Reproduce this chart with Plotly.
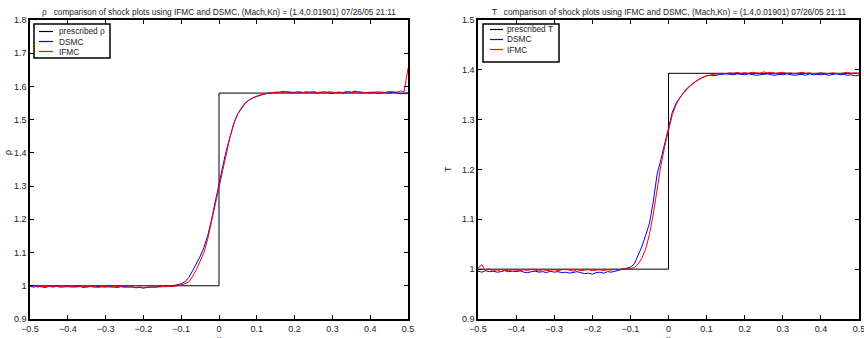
import plotly.graph_objects as go

x = [-0.50, -0.49, -0.48, -0.47, -0.46, -0.45, -0.44, -0.43, -0.42, -0.41,
     -0.40, -0.39, -0.38, -0.37, -0.36, -0.35, -0.34, -0.33, -0.32, -0.31,
     -0.30, -0.29, -0.28, -0.27, -0.26, -0.25, -0.24, -0.23, -0.22, -0.21,
     -0.20, -0.19, -0.18, -0.17, -0.16, -0.15, -0.14, -0.13, -0.12, -0.11,
     -0.10, -0.09, -0.08, -0.07, -0.06, -0.05, -0.04, -0.03, -0.02, -0.01,
     0.00, 0.01, 0.02, 0.03, 0.04, 0.05, 0.06, 0.07, 0.08, 0.09,
     0.10, 0.11, 0.12, 0.13, 0.14, 0.15, 0.16, 0.17, 0.18, 0.19,
     0.20, 0.21, 0.22, 0.23, 0.24, 0.25, 0.26, 0.27, 0.28, 0.29,
     0.30, 0.31, 0.32, 0.33, 0.34, 0.35, 0.36, 0.37, 0.38, 0.39,
     0.40, 0.41, 0.42, 0.43, 0.44, 0.45, 0.46, 0.47, 0.48, 0.49,
     0.50]

rho_dsmc = [0.998, 0.996, 0.999, 0.997, 0.995, 0.998, 0.997, 0.999, 0.996, 0.997,
            0.998, 0.996, 0.997, 0.999, 0.995, 0.997, 0.998, 0.996, 0.998, 0.997,
            0.996, 0.998, 0.997, 0.995, 0.997, 0.998, 0.996, 0.997, 0.994, 0.995,
            0.993, 0.996, 0.997, 0.995, 0.998, 0.997, 0.999, 0.998, 1.000, 1.002,
            1.006, 1.012, 1.025, 1.045, 1.066, 1.088, 1.115, 1.150, 1.198, 1.255,
            1.305, 1.360, 1.410, 1.452, 1.492, 1.518, 1.536, 1.550, 1.559, 1.566,
            1.570, 1.574, 1.577, 1.579, 1.581, 1.583, 1.582, 1.585, 1.583, 1.581,
            1.582, 1.583, 1.581, 1.584, 1.582, 1.583, 1.580, 1.582, 1.584, 1.581,
            1.579, 1.582, 1.583, 1.580, 1.584, 1.582, 1.586, 1.583, 1.581, 1.582,
            1.580, 1.583, 1.579, 1.581, 1.582, 1.580, 1.583, 1.581, 1.578, 1.579,
            1.580]

rho_ifmc = [0.999, 1.001, 0.996, 0.998, 0.997, 0.999, 0.996, 0.998, 0.997, 0.996,
            0.997, 0.998, 0.996, 0.997, 0.999, 0.996, 0.998, 0.997, 0.995, 0.997,
            0.998, 0.996, 0.997, 0.996, 0.998, 0.995, 0.997, 0.996, 0.995, 0.997,
            0.994, 0.996, 0.995, 0.997, 0.996, 0.998, 0.997, 0.999, 0.998, 1.000,
            1.002, 1.006, 1.012, 1.028, 1.048, 1.072, 1.100, 1.140, 1.192, 1.250,
            1.303, 1.358, 1.408, 1.452, 1.490, 1.518, 1.537, 1.551, 1.560, 1.566,
            1.571, 1.575, 1.578, 1.580, 1.582, 1.581, 1.583, 1.582, 1.584, 1.583,
            1.582, 1.584, 1.583, 1.581, 1.583, 1.584, 1.582, 1.583, 1.581, 1.584,
            1.583, 1.582, 1.580, 1.583, 1.585, 1.583, 1.582, 1.584, 1.583, 1.581,
            1.583, 1.582, 1.584, 1.583, 1.582, 1.585, 1.584, 1.583, 1.586, 1.585,
            1.655]

T_dsmc = [0.996, 0.994, 0.997, 0.995, 0.996, 0.994, 0.995, 0.997, 0.995, 0.996,
          0.995, 0.997, 0.994, 0.993, 0.995, 0.996, 0.994, 0.995, 0.993, 0.996,
          0.994, 0.995, 0.993, 0.994, 0.992, 0.994, 0.995, 0.993, 0.991, 0.992,
          0.990, 0.993, 0.994, 0.992, 0.995, 0.994, 0.996, 0.997, 0.999, 1.001,
          1.004, 1.010, 1.026, 1.045, 1.068, 1.092, 1.135, 1.190, 1.220, 1.252,
          1.281, 1.315, 1.333, 1.345, 1.355, 1.364, 1.371, 1.376, 1.381, 1.385,
          1.388, 1.389, 1.388, 1.390, 1.391, 1.392, 1.391, 1.390, 1.392, 1.391,
          1.390, 1.392, 1.391, 1.389, 1.390, 1.391, 1.392, 1.390, 1.389, 1.391,
          1.390, 1.392, 1.391, 1.389, 1.390, 1.391, 1.389, 1.392, 1.390, 1.391,
          1.390, 1.391, 1.389, 1.391, 1.392, 1.390, 1.391, 1.389, 1.390, 1.388,
          1.389]

T_ifmc = [1.002, 1.009, 0.997, 1.001, 0.996, 0.999, 0.995, 0.998, 0.997, 0.999,
          0.998, 0.996, 0.999, 0.997, 1.000, 0.998, 0.996, 0.999, 0.997, 0.998,
          0.999, 0.997, 0.998, 1.000, 0.998, 0.996, 0.999, 0.997, 0.998, 0.999,
          0.997, 0.998, 0.999, 0.997, 0.999, 0.998, 1.000, 0.999, 1.001, 1.000,
          1.001, 1.003, 1.010, 1.022, 1.040, 1.070, 1.110, 1.160, 1.208, 1.246,
          1.276, 1.310, 1.330, 1.344, 1.354, 1.363, 1.370, 1.376, 1.381, 1.385,
          1.388, 1.390, 1.391, 1.392, 1.393, 1.392, 1.394, 1.393, 1.395, 1.393,
          1.394, 1.393, 1.395, 1.394, 1.393, 1.396, 1.394, 1.395, 1.393, 1.394,
          1.395, 1.393, 1.394, 1.392, 1.394, 1.395, 1.393, 1.394, 1.392, 1.393,
          1.394, 1.393, 1.392, 1.394, 1.393, 1.392, 1.394, 1.395, 1.393, 1.394,
          1.393]

step_x = [-0.5, 0.0, 0.0, 0.5]
rho_step = [1.0, 1.0, 1.58, 1.58]
T_step = [1.0, 1.0, 1.393, 1.393]

xticks = [-0.5, -0.4, -0.3, -0.2, -0.1, 0, 0.1, 0.2, 0.3, 0.4, 0.5]

legend_rho = ["prescribed ρ", "DSMC", "IFMC"]
legend_T = ["prescribed T", "DSMC", "IFMC"]
series_colors = ["black", "#0000ff", "#ff0000"]

title_rho = "ρ   comparison of shock plots using IFMC and DSMC, (Mach,Kn) = (1.4,0.01901) 07/26/05 21:11"
title_T = "T   comparison of shock plots using IFMC and DSMC, (Mach,Kn) = (1.4,0.01901) 07/26/05 21:11"

FONT = "Liberation Sans, Arial, sans-serif"
TXT = "#222"
W, H = 864, 338


def px(v):
    return v / W


def py(v):
    return 1 - v / H


fig = go.Figure()

for xs, ys, nm, c in [(step_x, rho_step, legend_rho[0], series_colors[0]),
                      (x, rho_dsmc, legend_rho[1], series_colors[1]),
                      (x, rho_ifmc, legend_rho[2], series_colors[2])]:
    fig.add_trace(go.Scatter(x=xs, y=ys, mode="lines", name=nm, showlegend=False,
                             line=dict(color=c, width=1), xaxis="x", yaxis="y"))
for xs, ys, nm, c in [(step_x, T_step, legend_T[0], series_colors[0]),
                      (x, T_dsmc, legend_T[1], series_colors[1]),
                      (x, T_ifmc, legend_T[2], series_colors[2])]:
    fig.add_trace(go.Scatter(x=xs, y=ys, mode="lines", name=nm, showlegend=False,
                             line=dict(color=c, width=1), xaxis="x2", yaxis="y2"))

xd1 = [px(30), px(408)]
xd2 = [px(478), px(859)]
yd = [py(319), py(20)]

axis_common = dict(showline=True, linecolor="black", linewidth=1.5, mirror="allticks",
                   ticks="inside", ticklen=4, tickcolor="black", tickwidth=1,
                   showgrid=False, zeroline=False, automargin=False,
                   ticklabeloverflow="allow",
                   tickfont=dict(family=FONT, size=9, color=TXT))

shapes = []
annotations = []

LFS = 8.3


def add_legend(box, line_x, text_x, ys, labels):
    x0, y0, x1, y1 = box
    shapes.append(dict(type="rect", xref="paper", yref="paper",
                       x0=px(x0), x1=px(x1), y0=py(y1), y1=py(y0),
                       line=dict(color="black", width=1.5), fillcolor="white", layer="above"))
    for yy, lab, col in zip(ys, labels, series_colors):
        shapes.append(dict(type="line", xref="paper", yref="paper",
                           x0=px(line_x[0]), x1=px(line_x[1]), y0=py(yy), y1=py(yy),
                           line=dict(color=col, width=1.2), layer="above"))
        annotations.append(dict(text=lab, x=px(text_x), y=py(yy), xref="paper", yref="paper",
                                showarrow=False, xanchor="left", yanchor="middle",
                                font=dict(family=FONT, size=LFS, color=TXT)))


add_legend((34, 24, 110, 58), (39, 53), 57, [31.5, 41.5, 51.5], legend_rho)
add_legend((483, 24, 559, 62), (490, 503), 505, [29.5, 39.5, 49.5], legend_T)

for t, xc in [(title_rho, (xd1[0] + xd1[1]) / 2), (title_T, (xd2[0] + xd2[1]) / 2)]:
    annotations.append(dict(text=t, x=xc, y=py(12), xref="paper", yref="paper",
                            showarrow=False, xanchor="center", yanchor="middle",
                            font=dict(family=FONT, size=8.3, color=TXT)))
for t, xx, yy in [("ρ", 8, 153), ("T", 448, 169)]:
    annotations.append(dict(text=t, x=px(xx), y=py(yy), xref="paper", yref="paper",
                            showarrow=False, textangle=-90, xanchor="center", yanchor="middle",
                            font=dict(family=FONT, size=9, color=TXT)))
for xc in [(xd1[0] + xd1[1]) / 2, (xd2[0] + xd2[1]) / 2]:
    annotations.append(dict(text="x", x=xc, y=py(332), xref="paper", yref="paper",
                            showarrow=False, xanchor="center", yanchor="top",
                            font=dict(family=FONT, size=9, color=TXT)))

fig.update_layout(
    width=W, height=H,
    margin=dict(l=0, r=0, t=0, b=0, autoexpand=False),
    paper_bgcolor="white", plot_bgcolor="white",
    showlegend=False,
    xaxis=dict(domain=xd1, range=[-0.5, 0.5], tickvals=xticks, anchor="y", **axis_common),
    yaxis=dict(domain=yd, range=[0.9, 1.8], dtick=0.1, tick0=0.9, anchor="x", **axis_common),
    xaxis2=dict(domain=xd2, range=[-0.5, 0.5], tickvals=xticks, anchor="y2", **axis_common),
    yaxis2=dict(domain=yd, range=[0.9, 1.5], dtick=0.1, tick0=0.9, anchor="x2", **axis_common),
    shapes=shapes,
    annotations=annotations,
)

fig.write_html("out.html", config={"displayModeBar": False},
               post_script="document.body.style.margin='0';document.body.style.overflow='hidden';")
